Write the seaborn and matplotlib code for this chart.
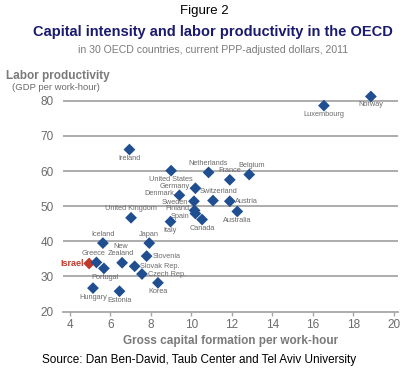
import matplotlib
matplotlib.use("Agg")
import matplotlib.pyplot as plt
import seaborn as sns
import pandas as pd

countries = ["Israel", "Greece", "Portugal", "Iceland", "Hungary", "Estonia",
             "New\nZealand", "Slovak Rep.", "Japan", "Slovenia", "Czech Rep.", "Korea",
             "Ireland", "United States", "Netherlands", "France", "Belgium", "Germany",
             "Denmark", "Switzerland", "Sweden", "Austria", "Finland", "Spain",
             "Australia", "Canada", "Italy", "United Kingdom", "Luxembourg", "Norway"]
capital = [4.95, 5.31, 5.68, 5.63, 5.14, 6.45,
           6.58, 7.20, 7.92, 7.79, 7.56, 8.35,
           6.94, 9.00, 10.85, 11.90, 12.86, 10.20,
           9.41, 11.07, 10.13, 11.90, 10.16, 10.20,
           12.27, 10.53, 8.97, 7.02, 16.55, 18.87]
productivity = [33.7, 34.0, 32.3, 39.5, 26.7, 25.8,
                33.9, 32.9, 39.5, 35.8, 30.7, 28.2,
                66.1, 60.1, 59.6, 57.5, 59.0, 55.1,
                53.1, 51.6, 51.4, 51.4, 48.8, 47.9,
                48.5, 46.2, 45.6, 46.7, 78.6, 81.2]
x_ticks = [4, 6, 8, 10, 12, 14, 16, 18, 20]
y_ticks = [20, 30, 40, 50, 60, 70, 80]

# label placement: (dx, dy in points, ha, va)
placement = {
    "Israel": (-4, 0, "right", "center"),
    "Greece": (-2, 4, "center", "bottom"),
    "Portugal": (1, -4, "center", "top"),
    "Iceland": (0, 4, "center", "bottom"),
    "Hungary": (0, -4, "center", "top"),
    "Estonia": (0, -4, "center", "top"),
    "New\nZealand": (-1, 4, "center", "bottom"),
    "Slovak Rep.": (4, 0, "left", "center"),
    "Japan": (0, 4, "center", "bottom"),
    "Slovenia": (4, 0, "left", "center"),
    "Czech Rep.": (4, 0, "left", "center"),
    "Korea": (0, -4, "center", "top"),
    "Ireland": (0, -4, "center", "top"),
    "United States": (0, -4, "center", "top"),
    "Netherlands": (0, 4, "center", "bottom"),
    "France": (0, 4, "center", "bottom"),
    "Belgium": (2, 4, "center", "bottom"),
    "Germany": (-4, 1, "right", "center"),
    "Denmark": (-4, 1, "right", "center"),
    "Switzerland": (4, 4, "center", "bottom"),
    "Sweden": (-4, -1, "right", "center"),
    "Austria": (4, 0, "left", "center"),
    "Finland": (-4, 1, "right", "center"),
    "Spain": (-4, -2, "right", "center"),
    "Australia": (0, -4, "center", "top"),
    "Canada": (0, -4, "center", "top"),
    "Italy": (0, -4, "center", "top"),
    "United Kingdom": (0, 4, "center", "bottom"),
    "Luxembourg": (0, -4, "center", "top"),
    "Norway": (0, -3, "center", "top"),
}

df = pd.DataFrame({"country": countries, "capital": capital, "productivity": productivity})
df["group"] = ["Israel" if c == "Israel" else "OECD" for c in countries]

sns.set_style("white")
plt.rcParams["font.family"] = ["Liberation Sans", "DejaVu Sans"]

fig = plt.figure(figsize=(4.08, 3.71), dpi=100)
ax = fig.add_axes([0.154, 0.160, 0.821, 0.597])

grid_c = "#a6a6a6"
for y in y_ticks[1:]:
    ax.axhline(y, color=grid_c, lw=1.3, zorder=0)

sns.scatterplot(data=df, x="capital", y="productivity", hue="group",
                palette={"OECD": "#1f4e91", "Israel": "#c0392b"},
                marker="D", s=36, edgecolor="none", legend=False, ax=ax, zorder=3)

for c, xv, yv in zip(countries, capital, productivity):
    dx, dy, ha, va = placement[c]
    if c == "Israel":
        ax.annotate(c, (xv, yv), xytext=(dx, dy), textcoords="offset points",
                    ha=ha, va=va, fontsize=6.5, color="#c0392b", fontweight="bold")
    else:
        ax.annotate(c, (xv, yv), xytext=(dx, dy), textcoords="offset points",
                    ha=ha, va=va, fontsize=5.3, color="#6b6b6b", linespacing=0.95)

ax.set_xlim(3.65, 20.2)
ax.set_ylim(20, 83)
ax.set_xticks(x_ticks)
ax.set_yticks(y_ticks)
for s in ["top", "right", "left"]:
    ax.spines[s].set_visible(False)
ax.spines["bottom"].set_color(grid_c)
ax.spines["bottom"].set_linewidth(1.3)
ax.tick_params(axis="x", colors=grid_c, labelcolor="#6b6b6b", labelsize=8.5,
               direction="out", length=3, width=1, bottom=True, pad=2)
ax.tick_params(axis="y", labelcolor="#6b6b6b", labelsize=8.5, left=False, pad=3)
ax.set_xlabel("Gross capital formation per work-hour", fontsize=8.5,
              fontweight="bold", color="#7a7a7a", labelpad=3)
ax.set_ylabel("")

fig.text(0.5, 0.97, "Figure 2", ha="center", va="center", fontsize=9.5, color="black")
fig.text(0.522, 0.913, "Capital intensity and labor productivity in the OECD",
         ha="center", va="center", fontsize=10.5, fontweight="bold", color="#1a1a6e")
fig.text(0.522, 0.865, "in 30 OECD countries, current PPP-adjusted dollars, 2011",
         ha="center", va="center", fontsize=7.6, color="#7a7a7a")
fig.text(0.015, 0.795, "Labor productivity", ha="left", va="center",
         fontsize=8.5, fontweight="bold", color="#7a7a7a")
fig.text(0.03, 0.763, "(GDP per work-hour)", ha="left", va="center",
         fontsize=6.8, color="#6b6b6b")
fig.text(0.488, 0.03, "Source: Dan Ben-David, Taub Center and Tel Aviv University",
         ha="center", va="center", fontsize=8.5, color="black")

fig.savefig("out.png", dpi=100)
